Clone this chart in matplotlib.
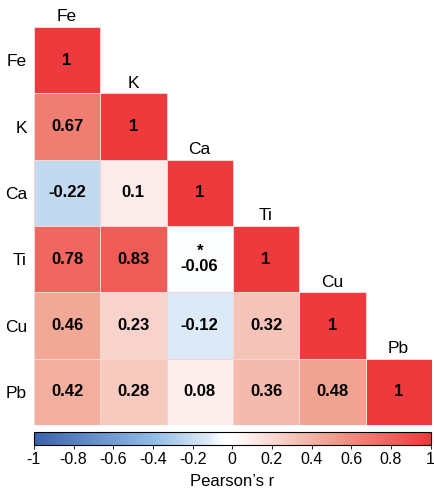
import numpy as np
import matplotlib
matplotlib.use("Agg")
import matplotlib.pyplot as plt
from matplotlib.colors import LinearSegmentedColormap, Normalize
from matplotlib.colorbar import ColorbarBase

plt.rcParams['font.family'] = ['Liberation Sans', 'DejaVu Sans']

# Элементы и нижний треугольник корреляционной матрицы
elements = ['Fe', 'K', 'Ca', 'Ti', 'Cu', 'Pb']
r_fe = [1]
r_k = [0.67, 1]
r_ca = [-0.22, 0.1, 1]
r_ti = [0.78, 0.83, -0.06, 1]
r_cu = [0.46, 0.23, -0.12, 0.32, 1]
r_pb = [0.42, 0.28, 0.08, 0.36, 0.48, 1]
rows = [r_fe, r_k, r_ca, r_ti, r_cu, r_pb]
starred = [(3, 2)]  # (строка, столбец) со звёздочкой

cbar_ticks = [-1, -0.8, -0.6, -0.4, -0.2, 0, 0.2, 0.4, 0.6, 0.8, 1]
cbar_labels = ['-1', '-0.8', '-0.6', '-0.4', '-0.2', '0', '0.2', '0.4', '0.6', '0.8', '1']

n = len(elements)

cmap = LinearSegmentedColormap.from_list(
    'rwb', [(0, '#3a62ae'), (0.3, '#90bce6'), (0.39, '#c4daf0'),
            (0.44, '#dce9f7'), (0.47, '#fcfdff'), (0.5, '#ffffff'),
            (0.75, '#f0a08e'), (1, '#ee3a3c')])
norm = Normalize(-1, 1)

fig = plt.figure(figsize=(4.34, 4.93), dpi=100)
ax = fig.add_axes([0.078, 0.138, 0.917, 0.807])

# каждая строка рисуется отдельно, чтобы не было рамок у пустых ячеек
for i, row in enumerate(rows):
    ax.pcolormesh(np.arange(len(row) + 1), [i, i + 1], np.array([row]),
                  cmap=cmap, norm=norm, edgecolor='#f6d4d4', linewidth=0.6)

ax.set_xlim(0, n)
ax.set_ylim(n, 0)
for s in ax.spines.values():
    s.set_visible(False)
ax.set_xticks([])
ax.set_yticks(np.arange(n) + 0.5)
ax.set_yticklabels(elements, fontsize=12.5)
ax.tick_params(axis='y', length=0, pad=5)

for i, row in enumerate(rows):
    for j, v in enumerate(row):
        txt = f'{v:g}'
        if (i, j) in starred:
            txt = '*\n' + txt
        ax.text(j + 0.5, i + 0.5, txt, ha='center', va='center',
                fontsize=12, fontweight='bold', color='black', linespacing=1.0)
    ax.text(i + 0.5, i - 0.04, elements[i], ha='center', va='bottom', fontsize=12.5)

cax = fig.add_axes([0.078, 0.097, 0.914, 0.027])
cb = ColorbarBase(cax, cmap=cmap, norm=norm, orientation='horizontal')
cb.set_ticks(cbar_ticks)
cb.set_ticklabels(cbar_labels)
cb.outline.set_linewidth(0.8)
cax.tick_params(labelsize=11.5, length=3, width=0.6, pad=2)
cb.set_label("Pearson’s r", fontsize=12, labelpad=5)

fig.savefig('out.png', dpi=100)
